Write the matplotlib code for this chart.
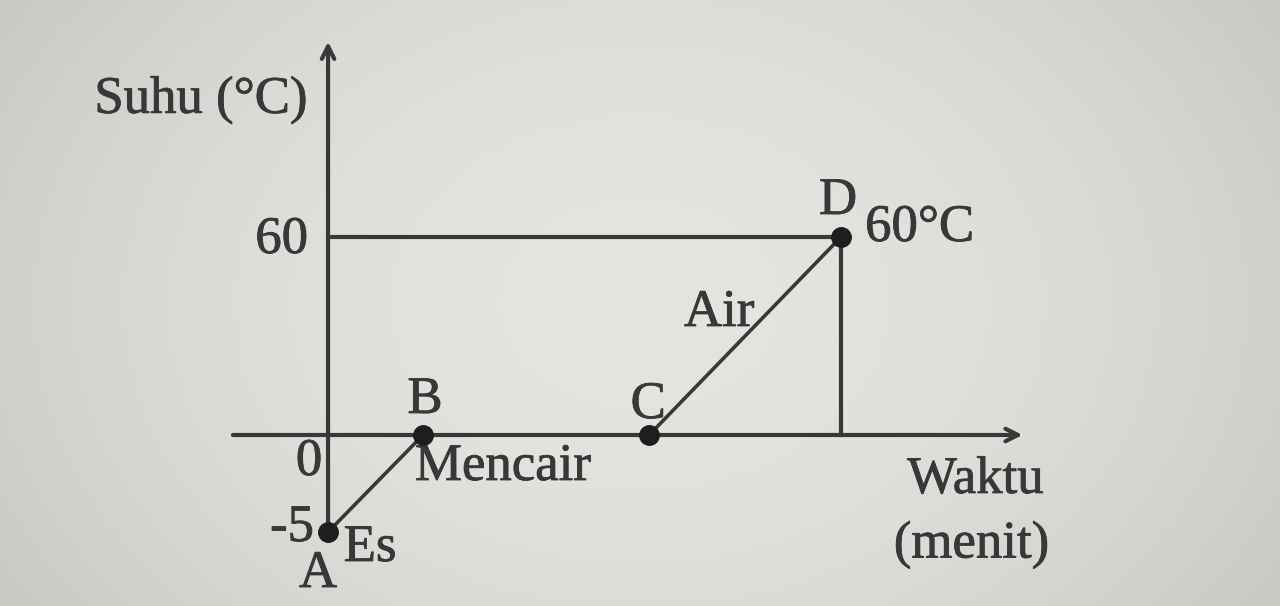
import numpy as np
import matplotlib
matplotlib.use('Agg')
import matplotlib.pyplot as plt
import matplotlib.patheffects as pe

# data titik A-B-C-D
titik = ['A', 'B', 'C', 'D']
waktu = [0, 1, 3.38, 5.4]      # menit (skematik)
suhu = [-5, 0, 0, 60]          # derajat C
fase = ['Es', 'Mencair', 'Air']

ink = '#383838'
plt.rcParams['font.family'] = ['Liberation Serif', 'DejaVu Serif']

# skala sumbu y tidak linear: bagian negatif diperbesar
k_neg, k_pos = 19.4, 3.3
def fwd(y):
    y = np.asarray(y, dtype=float)
    return np.where(y < 0, y * k_neg, y * k_pos)
def inv(v):
    v = np.asarray(v, dtype=float)
    return np.where(v < 0, v / k_neg, v / k_pos)

fig = plt.figure(figsize=(12.8, 6.06), dpi=100)
fig.patch.set_facecolor('#dcdcd8')
ax = fig.add_axes([0, 0, 1, 1])
ax.set_yscale('function', functions=(fwd, inv))
ax.set_xlim(-3.453, 10.02)
ax.set_ylim(-8.814, 131.8)
ax.axis('off')

# latar belakang foto (sedikit gelap di tepi)
gx = np.linspace(-1, 1, 256)
gy = np.linspace(-1, 1, 128)
GX, GY = np.meshgrid(gx, gy)
shade = 229 - 20 * (GX ** 2) - 8 * (GY ** 2)
bg = np.dstack([shade, shade - 1, shade - 4]) / 255.0
ax.imshow(np.clip(bg, 0, 1), extent=(0, 1, 0, 1), transform=ax.transAxes,
          aspect='auto', zorder=0)

# sumbu
ax.annotate('', xy=(0, 120), xytext=(0, -5.6),
            arrowprops=dict(arrowstyle='->,head_length=0.9,head_width=0.45',
                            color=ink, lw=3), zorder=2)
ax.annotate('', xy=(7.34, 0), xytext=(-1.03, 0),
            arrowprops=dict(arrowstyle='->,head_length=0.9,head_width=0.45',
                            color=ink, lw=3), zorder=2)

# garis bantu ke titik D
ax.plot([0, waktu[3]], [suhu[3], suhu[3]], color=ink, lw=3, zorder=2)
ax.plot([waktu[3], waktu[3]], [0, suhu[3]], color=ink, lw=3, zorder=2)

# grafik
ax.plot(waktu, suhu, color=ink, lw=2.6, zorder=3)
ax.plot(waktu, suhu, 'o', color='#1e1e1e', ms=14, zorder=4)

fs = 38
tebal = [pe.withStroke(linewidth=0.6, foreground=ink)]
txt = dict(color=ink, fontsize=fs, va='center', zorder=1, path_effects=tebal)

# label titik
offs = [(-10, -42), (2, 35), (-1, 30), (-3, 36)]
for lab, x, y, o in zip(titik, waktu, suhu, offs):
    ax.annotate(lab, (x, y), xytext=o, textcoords='offset pixels',
                ha='center', **txt)

# label fase
ax.annotate(fase[0], (waktu[0], suhu[0]), xytext=(42, -16),
            textcoords='offset pixels', ha='center', **txt)
ax.annotate(fase[1], (waktu[1], suhu[1]), xytext=(-8, -32),
            textcoords='offset pixels', ha='left', **txt)
ax.annotate(fase[2], ((waktu[2] + waktu[3]) / 2, (suhu[2] + suhu[3]) / 2),
            xytext=(-26, 23), textcoords='offset pixels', ha='center', **txt)
ax.annotate(f'{suhu[3]}°C', (waktu[3], suhu[3]), xytext=(24, 9),
            textcoords='offset pixels', ha='left', **txt)

# angka pada sumbu y
ax.annotate(str(suhu[3]), (0, suhu[3]), xytext=(-20, -3),
            textcoords='offset pixels', ha='right', **txt)
ax.annotate('0', (0, 0), xytext=(-19, -27),
            textcoords='offset pixels', ha='center', **txt)
ax.annotate(str(suhu[0]), (0, suhu[0]), xytext=(-14, 4),
            textcoords='offset pixels', ha='right', **txt)

# judul sumbu
ax.text(0.157, 0.835, 'Suhu (°C)', transform=ax.transAxes, ha='center', **txt)
ax.text(0.762, 0.208, 'Waktu', transform=ax.transAxes, ha='center', **txt)
ax.text(0.759, 0.101, '(menit)', transform=ax.transAxes, ha='center', **txt)

fig.savefig('out.png', dpi=100, facecolor=fig.get_facecolor())
